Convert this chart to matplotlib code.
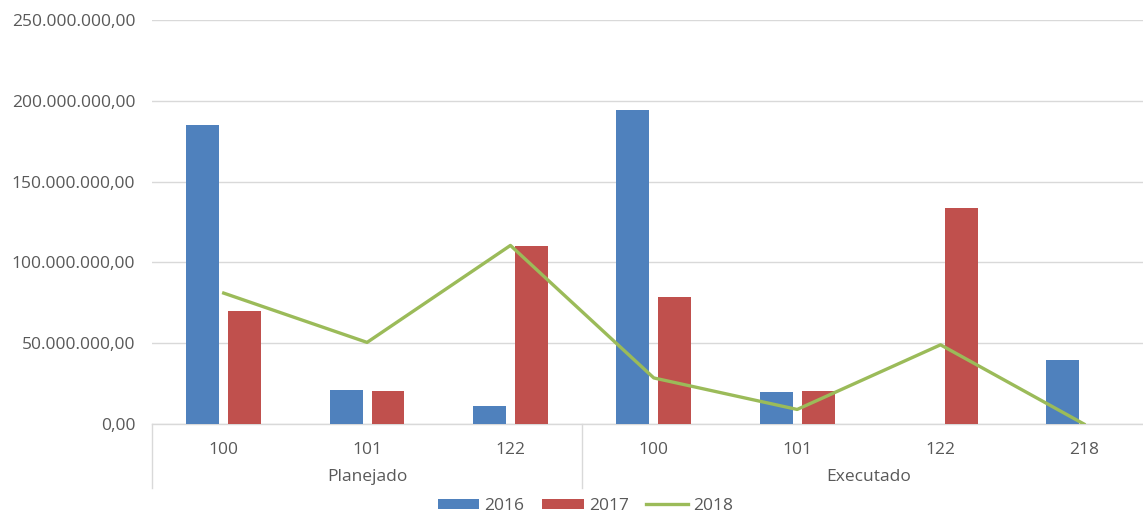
import matplotlib
matplotlib.use("Agg")
import matplotlib.pyplot as plt
import numpy as np
from matplotlib.ticker import FuncFormatter

plt.rcParams['font.family'] = ['Open Sans', 'DejaVu Sans']

# data (values in R$)
codes = ['100', '101', '122', '100', '101', '122', '218']
groups = ['Planejado', 'Executado']
group_sizes = [3, 4]
v2016 = [185e6, 21e6, 11e6, 194.5e6, 20e6, 0, 39.5e6]
v2017 = [70e6, 20.5e6, 110e6, 78.5e6, 20.5e6, 133.5e6, 0]
v2018 = [81e6, 50.5e6, 110.5e6, 28.5e6, 9e6, 49e6, 0]

blue = '#4F81BD'
red = '#C0504D'
green = '#9BBB59'
grey = '#595959'
grid = '#D9D9D9'
fs = 12.5

fig = plt.figure(figsize=(11.43, 5.13), dpi=100)
ax = fig.add_axes([0.133, 0.1735, 0.878, 0.7875])

x = np.arange(len(codes))
w = 0.23
b1 = ax.bar(x - 0.146, v2016, w, color=blue, label='2016', zorder=3)
b2 = ax.bar(x + 0.146, v2017, w, color=red, label='2017', zorder=3)
l3, = ax.plot(x, v2018, color=green, lw=2.4, label='2018', zorder=4)

ax.set_xlim(-0.5, len(codes) - 0.5)
ax.set_ylim(0, 250e6)
ax.set_yticks(np.arange(0, 250e6 + 1, 50e6))
ax.yaxis.set_major_formatter(FuncFormatter(
    lambda v, p: '{:,.2f}'.format(v).replace(',', 'X').replace('.', ',').replace('X', '.')))
ax.tick_params(axis='y', length=0, pad=12, labelsize=fs, labelcolor=grey)
ax.grid(axis='y', color=grid, lw=1, zorder=0)
for s in ['top', 'right', 'left']:
    ax.spines[s].set_visible(False)
ax.spines['bottom'].set_color(grid)
ax.spines['bottom'].set_linewidth(1)

ax.set_xticks(x)
ax.set_xticklabels(codes)
ax.tick_params(axis='x', length=0, pad=13, labelsize=fs, labelcolor=grey)

# group labels and separators below the axis
trans = ax.get_xaxis_transform()
start = -0.5
bounds = [start]
for g, n in zip(groups, group_sizes):
    ax.text(start + n / 2, -0.131, g, transform=trans, ha='center', va='center',
            fontsize=fs, color=grey)
    start += n
    bounds.append(start)
for b in bounds[:-1]:
    ax.plot([b, b], [0, -0.158], transform=trans, color=grid, lw=1, clip_on=False)

leg = fig.legend([b1, b2, l3], ['2016', '2017', '2018'], loc='center',
                 bbox_to_anchor=(0.512, 0.014), ncol=3, frameon=False,
                 fontsize=fs, handlelength=2.4, handleheight=0.5, columnspacing=1.0,
                 handletextpad=0.3)
for t in leg.get_texts():
    t.set_color(grey)

fig.savefig('out.png', dpi=100)
